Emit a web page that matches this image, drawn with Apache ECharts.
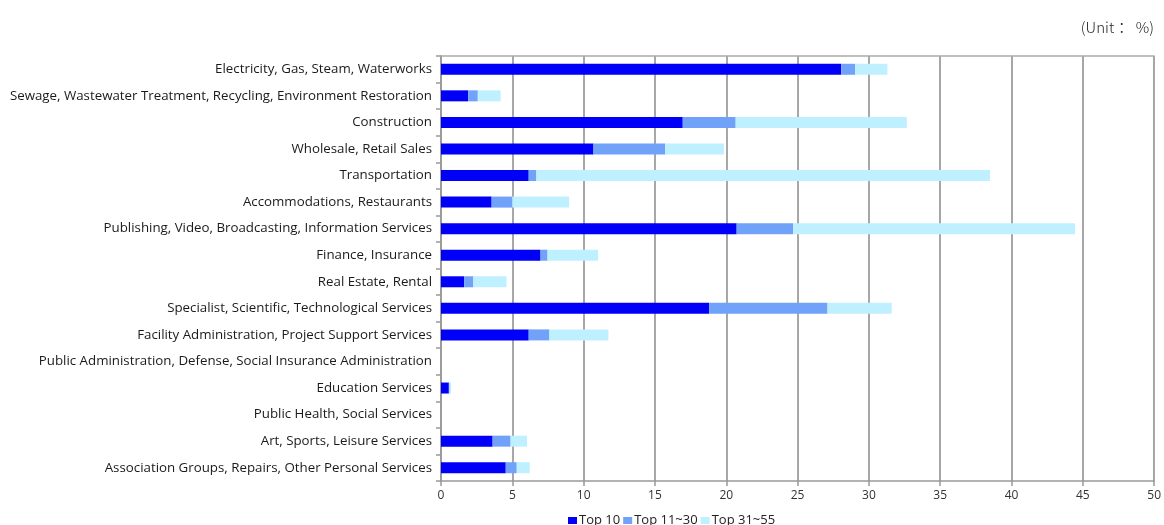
<!DOCTYPE html>
<html><head><meta charset="utf-8">
<script src="https://cdn.jsdelivr.net/npm/echarts@6/dist/echarts.min.js"></script>
<style>html,body{margin:0;padding:0;background:#fff}#c{width:1164px;height:525px}</style>
</head><body><div id="c"></div>
<script>
const categories = [
  "Electricity, Gas, Steam, Waterworks",
  "Sewage, Wastewater Treatment, Recycling, Environment Restoration",
  "Construction",
  "Wholesale, Retail Sales",
  "Transportation",
  "Accommodations, Restaurants",
  "Publishing, Video, Broadcasting, Information Services",
  "Finance, Insurance",
  "Real Estate, Rental",
  "Specialist, Scientific, Technological Services",
  "Facility Administration, Project Support Services",
  "Public Administration, Defense, Social Insurance Administration",
  "Education Services",
  "Public Health, Social Services",
  "Art, Sports, Leisure Services",
  "Association Groups, Repairs, Other Personal Services"
];
const seriesNames = ["Top 10", "Top 11~30", "Top 31~55"];
const top10   = [28.06, 1.90, 16.95, 10.69, 6.15, 3.55, 20.73, 6.98, 1.63, 18.80, 6.15, 0, 0.55, 0, 3.62, 4.54];
const top11_30 = [0.97, 0.68, 3.71, 5.02, 0.54, 1.45, 3.95, 0.49, 0.64, 8.30, 1.45, 0, 0.05, 0, 1.26, 0.77];
const top31_55 = [2.27, 1.60, 12.00, 4.12, 31.80, 3.98, 19.77, 3.55, 2.32, 4.50, 4.14, 0, 0.10, 0, 1.15, 0.91];
const xTicks = [0, 5, 10, 15, 20, 25, 30, 35, 40, 45, 50];
const unitText = "(Unit：  %)";

const colors = ["#0000f8", "#70a2fa", "#bff0ff"];
const font = "'Open Sans', sans-serif";
const chart = echarts.init(document.getElementById('c'));
const dataSets = [top10, top11_30, top31_55];
chart.setOption({
  animation: false,
  title: { text: unitText, right: 5, top: 15, textStyle: { fontFamily: "'Noto Sans CJK KR', sans-serif", fontSize: 15, fontWeight: 300, color: '#222' } },
  grid: { left: 441, right: 6, top: 56, bottom: 44 },
  legend: {
    data: seriesNames, top: 509, left: 563, itemWidth: 9, itemHeight: 7, itemGap: 3,
    icon: 'rect', textStyle: { fontFamily: font, fontSize: 13, color: '#222', padding: [0, 0, 0, -3] }
  },
  xAxis: [{
    type: 'value', min: xTicks[0], max: xTicks[xTicks.length - 1], interval: 5,
    axisLine: { show: true, lineStyle: { color: '#999', width: 1.5 } },
    axisTick: { show: true, length: 5, lineStyle: { color: '#999', width: 1.5 } },
    axisLabel: { fontFamily: font, fontSize: 12, color: '#333', margin: 9 },
    splitLine: { show: true, lineStyle: { color: '#8a8a8a', width: 1.5 } }
  }, {
    type: 'value', position: 'top', min: 0, max: 50,
    axisLine: { show: true, lineStyle: { color: '#aaa', width: 1.5 } },
    axisTick: { show: false }, axisLabel: { show: false }, splitLine: { show: false }
  }],
  yAxis: {
    type: 'category', data: categories, inverse: true,
    axisLine: { show: true, lineStyle: { color: '#999', width: 1.5 } },
    axisTick: { show: true, length: 5, lineStyle: { color: '#999', width: 1.5 } },
    axisLabel: { fontFamily: font, fontSize: 13.3, color: '#1a1a1a', margin: 9 }
  },
  series: seriesNames.map((n, i) => ({
    name: n, type: 'bar', stack: 'total', data: dataSets[i], barWidth: 11,
    itemStyle: { color: colors[i] }
  }))
});
</script></body></html>
